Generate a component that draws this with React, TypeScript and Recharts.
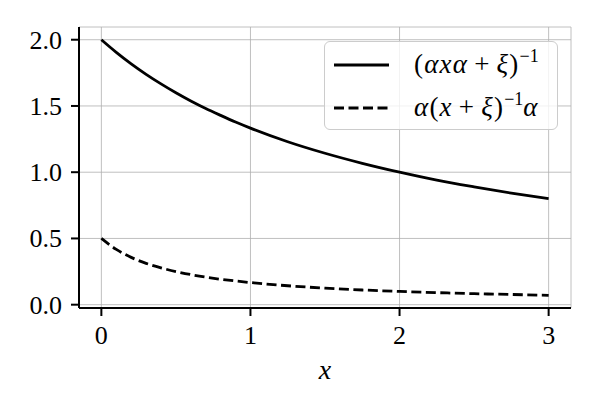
import { LineChart, Line, XAxis, YAxis, CartesianGrid, Legend, Label } from 'recharts'

const xs = [0, 0.1, 0.2, 0.3, 0.4, 0.5, 0.6, 0.7, 0.8, 0.9, 1, 1.25, 1.5, 1.75, 2, 2.25, 2.5, 2.75, 3]
const solid = [2.0, 1.905, 1.818, 1.739, 1.667, 1.6, 1.538, 1.481, 1.429, 1.379, 1.333, 1.23, 1.143, 1.067, 1.0, 0.94, 0.889, 0.842, 0.8]
const dashed = [0.5, 0.417, 0.357, 0.312, 0.278, 0.25, 0.227, 0.208, 0.192, 0.179, 0.167, 0.143, 0.125, 0.111, 0.1, 0.091, 0.083, 0.077, 0.071]
const xTicks = [0, 1, 2, 3]
const yTicks = [0, 0.5, 1.0, 1.5, 2.0]

const data = xs.map((x, i) => ({ x, solid: solid[i], dashed: dashed[i] }))

const FONT = 'Liberation Serif'

function XTick({ x, y, payload }: any) {
  return (
    <text x={x} y={y + 28} textAnchor="middle" style={{ fontFamily: FONT, fontSize: 26, fill: '#000' }}>
      {payload.value}
    </text>
  )
}

function YTick({ x, y, payload }: any) {
  return (
    <text x={x} y={y + 9} textAnchor="end" style={{ fontFamily: FONT, fontSize: 26, fill: '#000' }}>
      {Number(payload.value).toFixed(1)}
    </text>
  )
}

function LegendBox() {
  const row = { display: 'flex', alignItems: 'center', height: 43 } as const
  const txt = { fontFamily: FONT, fontSize: 27, color: '#000', whiteSpace: 'nowrap', letterSpacing: 1.2 } as const
  const sup = { fontSize: 18, position: 'relative', top: -11, letterSpacing: 0 } as const
  const op = { margin: '0 6px' }
  return (
    <div
      style={{
        border: '1.5px solid #cccccc',
        borderRadius: 6,
        background: 'rgba(255,255,255,0.8)',
        boxSizing: 'border-box',
        width: 234,
        height: 89,
        paddingTop: 1,
      }}
    >
      <div style={row}>
        <svg width={82} height={10} style={{ marginLeft: 7 }}>
          <line x1={2} y1={5} x2={57} y2={5} stroke="#000" strokeWidth={2.8} />
        </svg>
        <span style={txt}>
          (<i>αxα</i><span style={op}>+</span><i>ξ</i>)<span style={sup}>−1</span>
        </span>
      </div>
      <div style={row}>
        <svg width={82} height={10} style={{ marginLeft: 7 }}>
          <line x1={2} y1={5} x2={57} y2={5} stroke="#000" strokeWidth={2.8} strokeDasharray="10 4.5" />
        </svg>
        <span style={txt}>
          <i>α</i>(<i>x</i><span style={op}>+</span><i>ξ</i>)<span style={sup}>−1</span><i>α</i>
        </span>
      </div>
    </div>
  )
}

export default function App() {
  return (
    <div style={{ position: 'absolute', left: 0, top: 0, background: '#fff' }}>
      <LineChart width={599} height={412} data={data} margin={{ top: 27, right: 28, left: 0, bottom: 0 }}>
        <CartesianGrid stroke="#b0b0b0" strokeWidth={0.8} />
        <XAxis
          dataKey="x"
          type="number"
          domain={[-0.15, 3.15]}
          ticks={xTicks}
          height={104}
          tick={<XTick />}
          tickSize={8}
          tickMargin={0}
          axisLine={{ stroke: '#000', strokeWidth: 2 }}
          tickLine={{ stroke: '#000', strokeWidth: 2 }}
        >
          <Label
            content={({ viewBox }: any) => (
              <text
                x={viewBox.x + viewBox.width / 2}
                y={viewBox.y + 71}
                textAnchor="middle"
                style={{ fontFamily: FONT, fontSize: 28, fontStyle: 'italic', fill: '#000' }}
              >
                x
              </text>
            )}
          />
        </XAxis>
        <XAxis
          xAxisId="top"
          orientation="top"
          type="number"
          domain={[-0.15, 3.15]}
          height={0}
          tick={false}
          tickLine={false}
          axisLine={{ stroke: '#000', strokeWidth: 2 }}
        />
        <YAxis
          type="number"
          domain={[-0.025, 2.096]}
          ticks={yTicks}
          width={79}
          tick={<YTick />}
          tickSize={8}
          tickMargin={9}
          allowDataOverflow
          axisLine={{ stroke: '#000', strokeWidth: 2 }}
          tickLine={{ stroke: '#000', strokeWidth: 2 }}
        />
        <YAxis
          yAxisId="right"
          orientation="right"
          type="number"
          domain={[-0.025, 2.096]}
          width={0}
          tick={false}
          tickLine={false}
          axisLine={{ stroke: '#000', strokeWidth: 2 }}
        />
        <Line
          dataKey="solid"
          type="monotone"
          stroke="#000"
          strokeWidth={2.8}
          dot={false}
          isAnimationActive={false}
        />
        <Line
          dataKey="dashed"
          type="monotone"
          stroke="#000"
          strokeWidth={2.8}
          strokeDasharray="10 4.5"
          dot={false}
          isAnimationActive={false}
        />
        <Legend
          layout="horizontal"
          verticalAlign="middle"
          align="center"
          content={() => <LegendBox />}
          wrapperStyle={{ position: 'absolute', top: 41, left: 324, width: 234, height: 89 }}
        />
      </LineChart>
    </div>
  )
}
